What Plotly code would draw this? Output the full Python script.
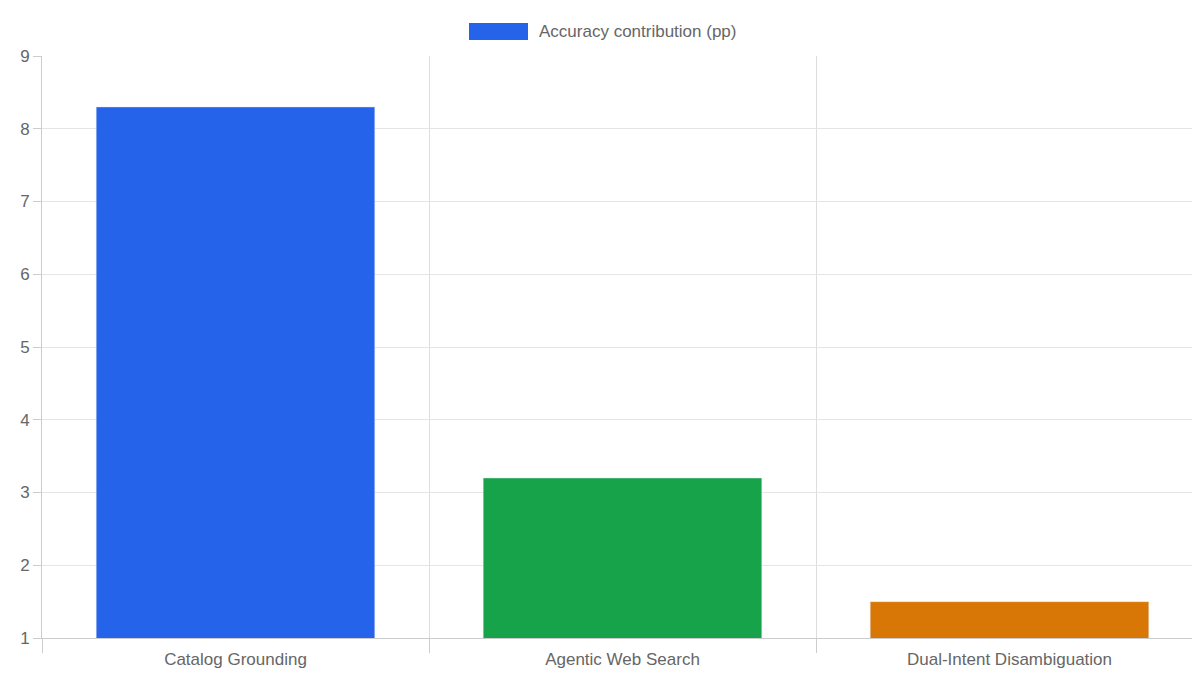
import plotly.graph_objects as go

categories = ["Catalog Grounding", "Agentic Web Search", "Dual-Intent Disambiguation"]
values = [8.3, 3.2, 1.5]
colors = ["#2563eb", "#16a34a", "#d97706"]
legend_label = "Accuracy contribution (pp)"

xs = list(range(len(categories)))
fig = go.Figure(go.Bar(x=xs, y=values, marker_color=colors, width=0.72, showlegend=False))

fig.update_layout(
    width=1200, height=675, plot_bgcolor="white", paper_bgcolor="white",
    margin=dict(l=34, r=5, t=48, b=45),
    font=dict(family="Liberation Sans, Arial", size=17, color="#666"),
    xaxis=dict(range=[-0.5, len(categories) - 0.5], tickvals=xs, ticktext=categories,
               showgrid=False, ticks="", showline=True, linecolor="#ccc",
               tickfont=dict(size=17), ticklabelstandoff=6,
               minor=dict(tickvals=[i - 0.5 for i in range(len(categories) + 1)],
                          showgrid=True, gridcolor="#ddd", ticks="outside",
                          ticklen=14, tickcolor="#ccc")),
    yaxis=dict(range=[1, 9], dtick=1, showgrid=True, gridcolor="#e5e5e5",
               showline=True, linecolor="#ccc", ticks="outside", ticklen=8,
               tickcolor="#ccc", zeroline=False, tickfont=dict(size=17)),
    shapes=[dict(type="rect", xref="paper", yref="paper", x0=(461-34)/1161, x1=(520-34)/1161,
                 y0=(675-45-15)/582, y1=(675-45-32)/582, fillcolor="#2563eb", line_width=0)],
    annotations=[dict(text=legend_label, xref="paper", yref="paper", x=(529-34)/1161,
                      y=(675-45-24)/582, xanchor="left", yanchor="middle", showarrow=False,
                      font=dict(size=17, color="#666"))],
)
fig.write_html("out.html")
